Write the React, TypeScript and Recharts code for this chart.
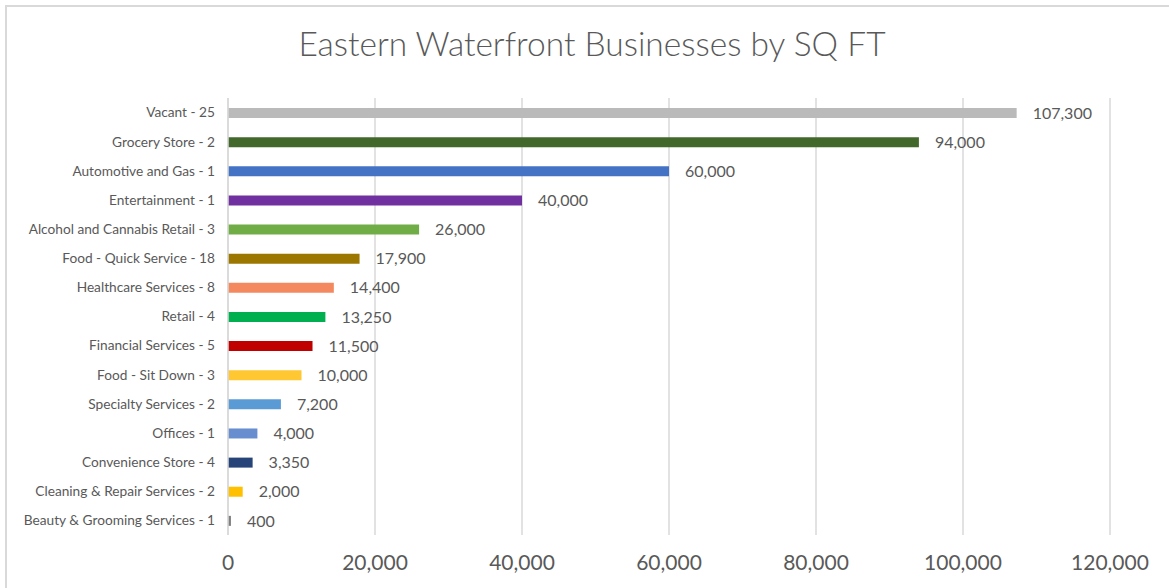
import { BarChart, Bar, XAxis, YAxis, CartesianGrid, Cell, LabelList } from 'recharts';

// Categories, top to bottom as shown
const categories = [
  'Vacant - 25',
  'Grocery Store - 2',
  'Automotive and Gas - 1',
  'Entertainment - 1',
  'Alcohol and Cannabis Retail - 3',
  'Food - Quick Service - 18',
  'Healthcare Services - 8',
  'Retail - 4',
  'Financial Services - 5',
  'Food - Sit Down - 3',
  'Specialty Services - 2',
  'Offices - 1',
  'Convenience Store - 4',
  'Cleaning & Repair Services - 2',
  'Beauty & Grooming Services - 1',
];

const sqft = [107300, 94000, 60000, 40000, 26000, 17900, 14400, 13250, 11500, 10000, 7200, 4000, 3350, 2000, 400];

const xTicks = [0, 20000, 40000, 60000, 80000, 100000, 120000];

const barColors = [
  '#BABABA', '#43682B', '#4472C4', '#7030A0', '#70AD47',
  '#9C7700', '#F4895F', '#00B050', '#C00000', '#FFC832',
  '#5B9BD5', '#698ED0', '#264478', '#FFC000', '#7F7F7F',
];

const FONT = 'Lato, "Open Sans", sans-serif';
const TEXT = '#595959';
const GRID = '#D9D9D9';

const fmt = (v: number) => v.toLocaleString('en-US');

export default function App() {
  const data = categories.map((name, i) => ({ name, value: sqft[i] }));

  return (
    <div style={{ position: 'fixed', left: 0, top: 0, width: 1169, height: 588, background: '#fff', fontFamily: FONT, overflow: 'hidden' }}>
      {/* chart frame, only top and left edges are visible in the crop */}
      <div style={{ position: 'absolute', left: 5, top: 5, width: 1200, height: 640, borderTop: `2px solid ${GRID}`, borderLeft: `2px solid ${GRID}` }} />
      <div style={{ position: 'absolute', left: 0, top: 23, width: 1184, textAlign: 'center', fontSize: 33.5, fontWeight: 300, color: TEXT }}>
        Eastern Waterfront Businesses by SQ FT
      </div>
      <div style={{ position: 'absolute', left: 0, top: 0 }}>
        <BarChart width={1169} height={588} data={data} layout="vertical" margin={{ top: 98, right: 59, bottom: 13, left: 0 }} barSize={10}>
          <CartesianGrid horizontal={false} stroke={GRID} strokeWidth={1.5} />
          <XAxis
            type="number"
            domain={[0, 120000]}
            ticks={xTicks}
            tickFormatter={fmt}
            axisLine={false}
            tickLine={false}
            tickSize={0}
            tickMargin={20}
            height={40}
            tick={{ fill: TEXT, fontSize: 21, fontFamily: FONT }}
          />
          <YAxis
            type="category"
            dataKey="name"
            width={228}
            interval={0}
            axisLine={{ stroke: GRID, strokeWidth: 1.5 }}
            tickLine={false}
            tickSize={0}
            tickMargin={13}
            tick={{ fill: TEXT, fontSize: 13.7, fontFamily: FONT }}
          />
          <Bar dataKey="value" isAnimationActive={false}>
            {data.map((d, i) => (
              <Cell key={d.name} fill={barColors[i]} />
            ))}
            <LabelList dataKey="value" position="right" offset={16} formatter={(v: any) => fmt(Number(v))} style={{ fill: TEXT, fontSize: 16, fontFamily: FONT }} />
          </Bar>
        </BarChart>
      </div>
    </div>
  );
}
